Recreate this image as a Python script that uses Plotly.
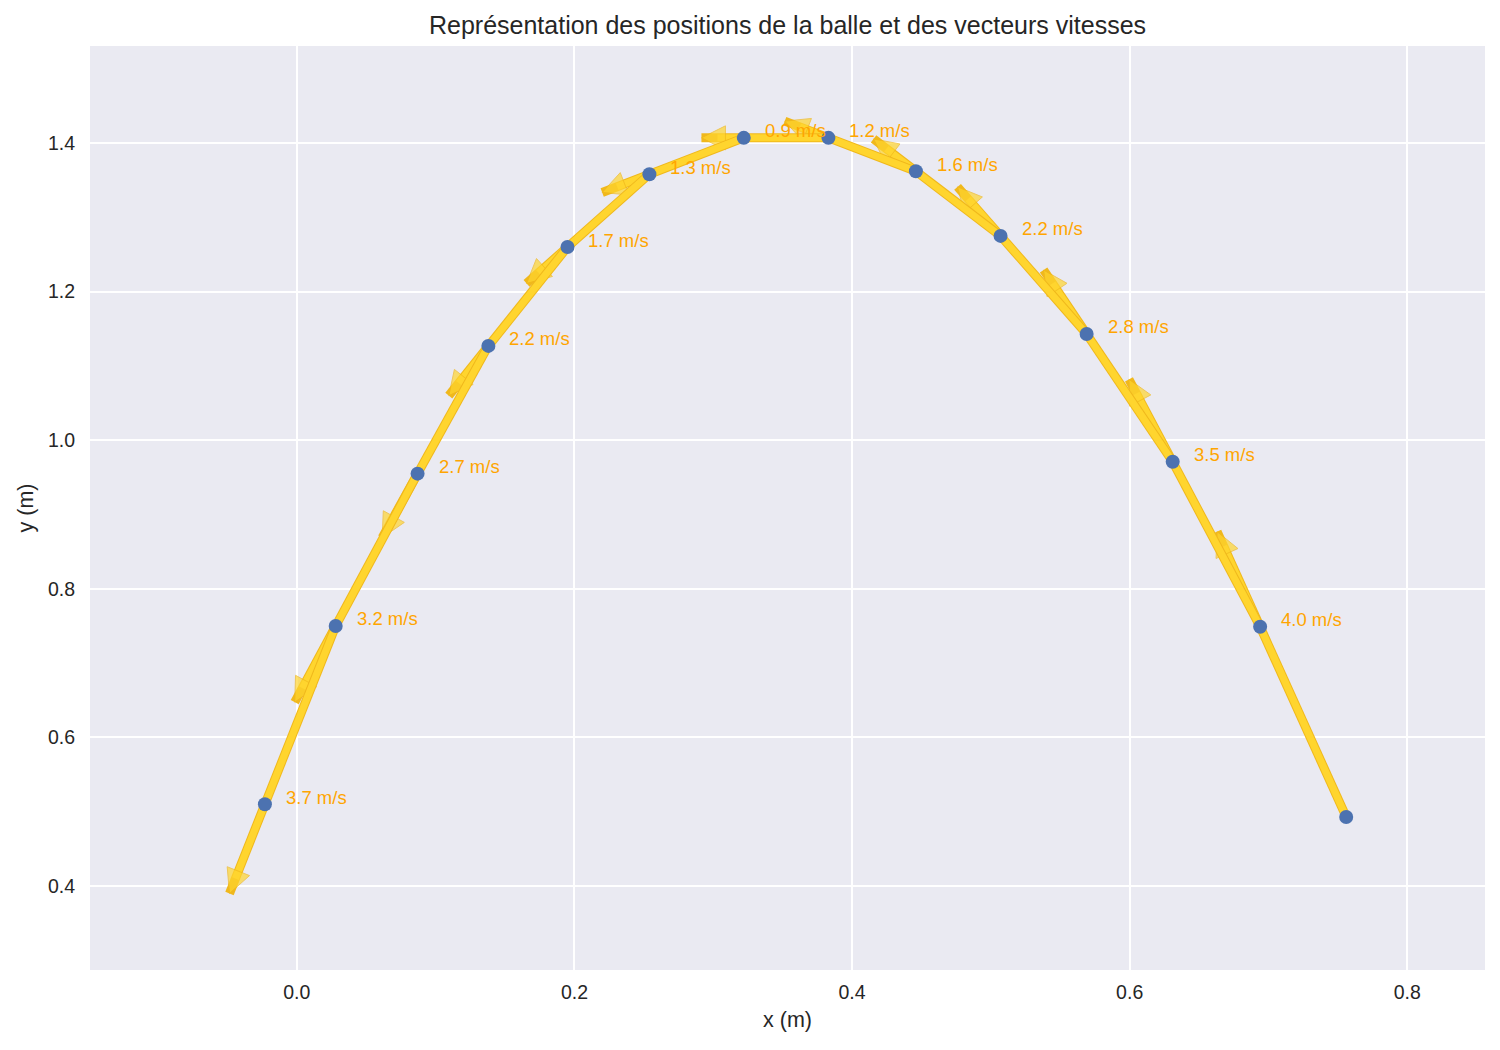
import plotly.graph_objects as go

# Positions of the ball (m), in time order (right to left)
x_pos = [0.756, 0.694, 0.631, 0.569, 0.507, 0.446, 0.383, 0.322, 0.254, 0.195, 0.138, 0.087, 0.028, -0.023]
y_pos = [0.493, 0.749, 0.971, 1.143, 1.275, 1.362, 1.407, 1.407, 1.358, 1.260, 1.127, 0.955, 0.750, 0.510]

# Velocity vectors (m/s), one per interval, drawn from the first point of the interval
vx = [-0.93, -0.945, -0.93, -0.93, -0.915, -0.945, -0.915, -1.02, -0.885, -0.855, -0.765, -0.885, -0.765]
vy = [3.84, 3.33, 2.58, 1.98, 1.305, 0.675, 0.0, -0.735, -1.47, -2.0, -2.58, -3.075, -3.6]

# Speed labels (m/s), shown next to the end point of each interval
speeds = [4.0, 3.5, 2.8, 2.2, 1.6, 1.2, 0.9, 1.3, 1.7, 2.2, 2.7, 3.2, 3.7]

arrow_scale = 0.1  # quiver scale (data units per m/s)

x_ticks = [0.0, 0.2, 0.4, 0.6, 0.8]
y_ticks = [0.4, 0.6, 0.8, 1.0, 1.2, 1.4]

FILL = "#FFD52E"
EDGE = "#F0B81C"
FONT = "Liberation Sans, Arial, sans-serif"
TEXT = "#262626"

fig = go.Figure()

for i in range(len(vx)):
    xs = [x_pos[i], x_pos[i] + arrow_scale * vx[i]]
    ys = [y_pos[i], y_pos[i] + arrow_scale * vy[i]]
    # thin darker edge under the shaft
    fig.add_trace(go.Scatter(
        x=xs, y=ys, mode="lines",
        line=dict(color=EDGE, width=9, backoff=16),
        hoverinfo="skip", showlegend=False,
    ))
    # shaft + arrow head
    fig.add_trace(go.Scatter(
        x=xs, y=ys, mode="lines+markers",
        line=dict(color=FILL, width=7, backoff=16),
        marker=dict(symbol="arrow-up", size=[0, 24], angleref="previous",
                    color=FILL, line=dict(color=EDGE, width=1)),
        hoverinfo="skip", showlegend=False,
    ))

# ball positions
fig.add_trace(go.Scatter(
    x=x_pos, y=y_pos, mode="markers",
    marker=dict(color="#4C72B0", size=14, line=dict(width=0)),
    showlegend=False,
))

annotations = []
for i, s in enumerate(speeds):
    annotations.append(dict(
        x=x_pos[i + 1], y=y_pos[i + 1], xref="x", yref="y",
        text=f"{s:.1f} m/s", showarrow=False,
        xanchor="left", yanchor="middle", xshift=19, yshift=7,
        font=dict(family=FONT, size=18.5, color="orange"),
    ))

fig.update_layout(
    width=1500, height=1050,
    margin=dict(l=82, r=23, t=38, b=88),
    paper_bgcolor="white", plot_bgcolor="#EAEAF2",
    font=dict(family=FONT, color=TEXT, size=19.5),
    title=dict(text="Représentation des positions de la balle et des vecteurs vitesses",
               x=779.5 / 1500, xanchor="center", y=1 - 17 / 1050, yanchor="middle",
               yref="container", font=dict(size=25, color=TEXT)),
    annotations=annotations,
)
fig.update_xaxes(
    range=[-0.149, 0.856], tickvals=x_ticks, ticktext=[f"{v:.1f}" for v in x_ticks],
    showgrid=True, gridcolor="white", gridwidth=2, zeroline=False, showline=False,
    ticks="", ticklabelstandoff=8,
    title=dict(text="x (m)", font=dict(size=21.5, color=TEXT), standoff=10),
)
fig.update_yaxes(
    range=[0.287, 1.5306], tickvals=y_ticks, ticktext=[f"{v:.1f}" for v in y_ticks],
    showgrid=True, gridcolor="white", gridwidth=2, zeroline=False, showline=False,
    ticks="", ticklabelstandoff=14,
    title=dict(text="y (m)", font=dict(size=21.5, color=TEXT), standoff=8),
)

fig.write_html("out.html")
